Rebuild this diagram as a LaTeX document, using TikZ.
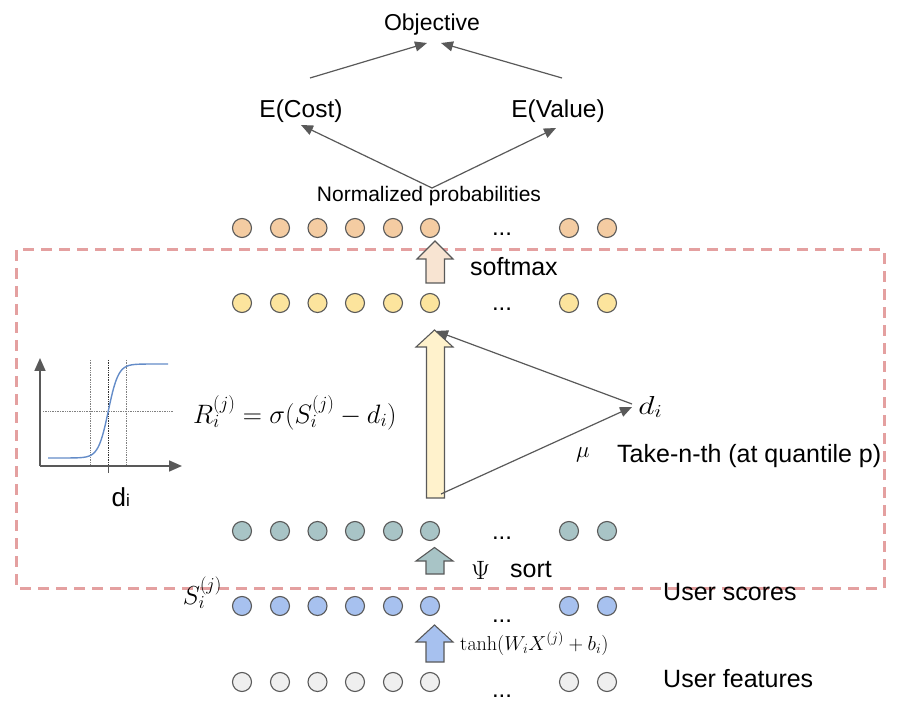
\RequirePackage{fix-cm}
\documentclass[tikz,border=0pt]{standalone}
\usepackage[no-math]{fontspec}
\setmainfont{Liberation Sans}
\usetikzlibrary{arrows.meta}
\definecolor{lg}{HTML}{595959}
\definecolor{corange}{HTML}{F4CCA2}
\definecolor{cyellow}{HTML}{FCE49D}
\definecolor{cteal}{HTML}{A8C4C6}
\definecolor{cblue}{HTML}{A7C1EF}
\definecolor{cgray}{HTML}{EFEFEF}
\definecolor{aorange}{HTML}{F8E4D2}
\definecolor{ayellow}{HTML}{FFF2CC}
\definecolor{dashpink}{RGB}{228,160,160}
\definecolor{sigblue}{RGB}{100,140,200}
\tikzset{
  circ/.style={circle,draw=lg,line width=1.1pt,minimum size=19pt,inner sep=0pt},
  conn/.style={draw=lg,line width=1.2pt,-{Triangle[length=12pt,width=10pt]}},
  blockarrow/.style={draw=lg,line width=1.1pt},
  lbl/.style={inner sep=0pt,font=\fontsize{25}{29}\selectfont},
  mth/.style={inner sep=0pt},
  dotsl/.style={inner sep=0pt,font=\fontsize{24}{28}\selectfont},
}
\begin{document}
\begin{tikzpicture}[x=1pt,y=-1pt]
\useasboundingbox (0,0) rectangle (902,708);
% dashed frame
\draw[dashpink,line width=3pt,dash pattern=on 11pt off 7pt] (16,250) rectangle (884,588);
% rows of circles
\foreach \x [count=\k] in {242,280,317.5,355,393,430,569,607} {
  \node[circ,fill=corange] (o\k) at (\x,228) {};
  \node[circ,fill=cyellow] (y\k) at (\x,303) {};
  \node[circ,fill=cteal]   (t\k) at (\x,531) {};
  \node[circ,fill=cblue]   (b\k) at (\x,606) {};
  \node[circ,fill=cgray]   (g\k) at (\x,682) {};
}
\node[dotsl,anchor=base] (od) at (502,236) {...};
\node[dotsl,anchor=base] (yd) at (502,311) {...};
\node[dotsl,anchor=base] (td) at (502,539) {...};
\node[dotsl,anchor=base] (bd) at (502,622) {...};
\node[dotsl,anchor=base] (gd) at (502,697) {...};
% block arrows
\draw[blockarrow,fill=aorange] (435,241) -- (453,259) -- (444.5,259) -- (444.5,283) -- (426,283) -- (426,259) -- (417,259) -- cycle;
\draw[blockarrow,fill=ayellow] (434.5,330) -- (453,347) -- (444.5,347) -- (444.5,498) -- (426.5,498) -- (426.5,347) -- (416,347) -- cycle;
\draw[blockarrow,fill=cteal] (434.5,547.5) -- (453,561) -- (444,561) -- (444,574) -- (426,574) -- (426,561) -- (416,561) -- cycle;
\draw[blockarrow,fill=cblue] (434.5,625) -- (453,642) -- (444,642) -- (444,662) -- (426,662) -- (426,642) -- (416,642) -- cycle;
% top texts
\node[lbl,anchor=base,font=\fontsize{23}{27}\selectfont] (obj) at (432,31) {Objective};
\node[lbl,anchor=base,font=\fontsize{24.5}{28}\selectfont] (cost) at (301,118) {E(Cost)};
\node[lbl,anchor=base,font=\fontsize{24.5}{28}\selectfont] (val) at (558,118) {E(Value)};
\node[lbl,anchor=base,font=\fontsize{21}{25}\selectfont] (np) at (429,202) {Normalized probabilities};
\coordinate (costT) at (310,78);
\coordinate (valT) at (562,78);
\coordinate (objL) at (427,43);
\coordinate (objR) at (441,43);
\coordinate (npT) at (432,188);
\coordinate (costB) at (301,125);
\coordinate (valB) at (556,128);
\draw[conn] (costT) -- (objL);
\draw[conn] (valT) -- (objR);
\draw[conn] (npT) -- (costB);
\draw[conn] (npT) -- (valB);
% labels
\node[lbl,anchor=base west] (sm) at (470,276) {softmax};
\node[mth,anchor=base west,font=\fontsize{26.6}{30}\selectfont] (rf) at (193,423) {$R_i^{(j)}=\sigma(S_i^{(j)}-d_i)$};
\node[mth,anchor=base west,font=\fontsize{26}{30}\selectfont,xscale=1.22,transform shape] (di) at (638,414) {$d_i$};
\node[mth,anchor=base,font=\fontsize{23}{27}\selectfont] (mu) at (583,457) {$\mu$};
\node[lbl,anchor=base west] (take) at (617,462) {Take-n-th (at quantile p)};
\coordinate (ybot) at (441,494);
\coordinate (ytip) at (436,331);
\coordinate (diA) at (632,407);
\coordinate (diB) at (632,404);
\draw[conn] (ybot) -- (diA);
\draw[conn] (diB) -- (ytip);
\node[mth,anchor=base west,font=\fontsize{26.5}{30}\selectfont] (psi) at (471,579) {$\Psi$};
\node[lbl,anchor=base west] (sort) at (510,577) {sort};
\node[mth,anchor=base east,font=\fontsize{26}{30}\selectfont] (sl) at (222,604) {$S_i^{(j)}$};
\node[mth,anchor=base west,font=\fontsize{20.2}{24}\selectfont] (tanh) at (460,650) {$\tanh(W_iX^{(j)}+b_i)$};
\node[lbl,anchor=base west] (us) at (663,600) {User scores};
\node[lbl,anchor=base west] (uf) at (663,687) {User features};
% sigmoid plot
\draw[black!50,densely dotted,line width=0.7pt] (43,411) -- (173,411);
\draw[black!50,densely dotted,line width=0.7pt] (90.7,360) -- (90.7,466);
\draw[black!50,densely dotted,line width=0.7pt] (126.7,360) -- (126.7,466);
\draw[black!80,densely dotted,line width=0.7pt] (108.3,360) -- (108.3,466);
\draw[lg,line width=1.2pt] (108.3,466) -- (108.3,473);
\draw[sigblue,line width=1.4pt] plot[domain=48:168,samples=120] (\x,{458-94/(1+exp(max(-9,min(9,-(\x-108.3)/5))))});
\coordinate (orig) at (40,466);
\coordinate (ytop) at (40,358);
\coordinate (xend) at (182,466);
\draw[lg,line width=1.6pt,-{Triangle[length=13pt,width=11pt]}] (orig) -- (ytop);
\draw[lg,line width=1.6pt,-{Triangle[length=13pt,width=11pt]}] (orig) -- (xend);
\node[lbl,anchor=base west,font=\fontsize{26}{30}\selectfont] (dlab) at (111.5,506) {d{\fontsize{17}{19}\selectfont i}};
\end{tikzpicture}
\end{document}
